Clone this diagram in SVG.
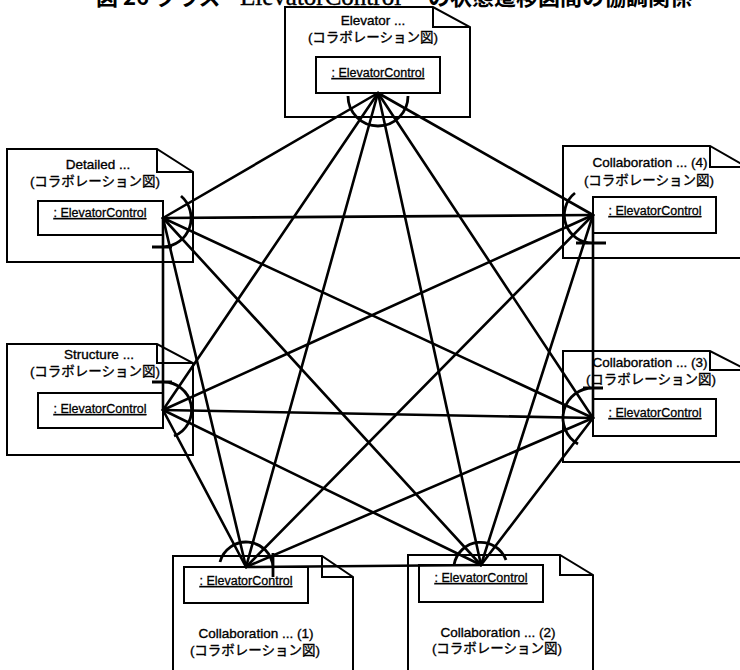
<svg xmlns="http://www.w3.org/2000/svg" width="740" height="670" viewBox="0 0 740 670">
  <style>
    .note { fill: #fff; stroke: #000; stroke-width: 2; stroke-linejoin: miter; }
    .fold { fill: none; stroke: #000; stroke-width: 2; }
    .obj { fill: #fff; stroke: #000; stroke-width: 2; }
    .lbl { font-family: "Liberation Sans", "Noto Sans CJK JP", sans-serif; font-size: 13.5px; fill: #000; stroke: #000; stroke-width: 0.35; text-anchor: middle; }
    .name { font-family: "Liberation Sans", "Noto Sans CJK JP", sans-serif; font-size: 12.5px; fill: #000; stroke: #000; stroke-width: 0.3; text-anchor: middle; text-decoration: underline; }
    .title { font-family: "Noto Sans CJK JP", sans-serif; font-weight: bold; font-size: 22px; fill: #000; }
    .titleLatin { font-family: "Liberation Serif", serif; font-size: 25px; fill: #000; stroke: #000; stroke-width: 0.4; }
    .link { stroke: #000; stroke-width: 2.6; fill: none; stroke-linecap: round; }
    .hub { stroke: #000; stroke-width: 2.8; fill: none; }
  </style>

  <!-- caption, partly clipped by the page top -->
  <g id="caption">
    <text class="title" x="96" y="5">図 26</text>
    <text class="title" x="155" y="5">クラス</text>
    <text class="titleLatin" x="240" y="5">ElevatorControl</text>
    <text class="title" x="428" y="5">の状態遷移図間の協調関係</text>
  </g>

  <!-- Elevator ... -->
  <g id="n-elevator">
    <path class="note" d="M285,7 H433 L470,27 V117 H285 Z"/>
    <path class="fold" d="M433,7 V27 H470"/>
    <text class="lbl" x="373" y="25">Elevator ...</text>
    <text class="lbl" x="373" y="42">(コラボレーション図)</text>
    <rect class="obj" x="316" y="57" width="124" height="36"/>
    <text class="name" x="378" y="77">: ElevatorControl</text>
  </g>

  <!-- Detailed ... -->
  <g id="n-detailed">
    <path class="note" d="M7,149 H157 L193,172 V262 H7 Z"/>
    <path class="fold" d="M157,149 V172 H193"/>
    <text class="lbl" x="98" y="169">Detailed ...</text>
    <text class="lbl" x="95" y="186">(コラボレーション図)</text>
    <rect class="obj" x="38" y="201" width="125" height="34"/>
    <text class="name" x="100" y="217">: ElevatorControl</text>
  </g>

  <!-- Collaboration ... (4) -->
  <g id="n-collab4">
    <path class="note" d="M563,146 H710 L747,167 V258 H563 Z"/>
    <path class="fold" d="M710,146 V167 H747"/>
    <text class="lbl" x="650" y="167">Collaboration ... (4)</text>
    <text class="lbl" x="649" y="185">(コラボレーション図)</text>
    <rect class="obj" x="593" y="197" width="123" height="36"/>
    <text class="name" x="655" y="215">: ElevatorControl</text>
  </g>

  <!-- Structure ... -->
  <g id="n-structure">
    <path class="note" d="M7,344 H157 L193,363 V455 H7 Z"/>
    <path class="fold" d="M157,344 V363 H193"/>
    <text class="lbl" x="99" y="359">Structure ...</text>
    <text class="lbl" x="95" y="376">(コラボレーション図)</text>
    <rect class="obj" x="38" y="393" width="125" height="35"/>
    <text class="name" x="100" y="413">: ElevatorControl</text>
  </g>

  <!-- Collaboration ... (3) -->
  <g id="n-collab3">
    <path class="note" d="M563,351 H710 L747,370 V462 H563 Z"/>
    <path class="fold" d="M710,351 V370 H747"/>
    <text class="lbl" x="650" y="367">Collaboration ... (3)</text>
    <text class="lbl" x="651" y="384">(コラボレーション図)</text>
    <rect class="obj" x="593" y="399" width="123" height="37"/>
    <text class="name" x="655" y="417">: ElevatorControl</text>
  </g>

  <!-- Collaboration ... (1) -->
  <g id="n-collab1">
    <path class="note" d="M173,556 H322 L353,577 V680 H173 Z"/>
    <path class="fold" d="M322,556 V577 H353"/>
    <rect class="obj" x="184" y="567" width="124" height="36"/>
    <text class="name" x="246" y="585">: ElevatorControl</text>
    <text class="lbl" x="256" y="638">Collaboration ... (1)</text>
    <text class="lbl" x="255" y="655">(コラボレーション図)</text>
  </g>

  <!-- Collaboration ... (2) -->
  <g id="n-collab2">
    <path class="note" d="M408,555 H560 L593,575 V680 H408 Z"/>
    <path class="fold" d="M560,555 V575 H593"/>
    <rect class="obj" x="419" y="565" width="124" height="37"/>
    <text class="name" x="481" y="582">: ElevatorControl</text>
    <text class="lbl" x="498" y="637">Collaboration ... (2)</text>
    <text class="lbl" x="497" y="653">(コラボレーション図)</text>
  </g>

  <!-- every pair of ElevatorControl objects is linked -->
  <g id="links">
    <!-- from Elevator (378,93) -->
    <line class="link" x1="378" y1="93" x2="163" y2="218"/>
    <line class="link" x1="378" y1="93" x2="593" y2="215"/>
    <line class="link" x1="378" y1="93" x2="163" y2="410"/>
    <line class="link" x1="378" y1="93" x2="593" y2="418"/>
    <line class="link" x1="378" y1="93" x2="246" y2="567"/>
    <line class="link" x1="378" y1="93" x2="481" y2="565"/>
    <!-- from Detailed (163,218) -->
    <line class="link" x1="163" y1="218" x2="593" y2="215"/>
    <line class="link" x1="163" y1="218" x2="163" y2="410"/>
    <line class="link" x1="163" y1="218" x2="593" y2="418"/>
    <line class="link" x1="163" y1="218" x2="246" y2="567"/>
    <line class="link" x1="163" y1="218" x2="481" y2="565"/>
    <!-- from Collaboration (4) (593,215) -->
    <line class="link" x1="593" y1="215" x2="163" y2="410"/>
    <line class="link" x1="593" y1="215" x2="593" y2="418"/>
    <line class="link" x1="593" y1="215" x2="246" y2="567"/>
    <line class="link" x1="593" y1="215" x2="481" y2="565"/>
    <!-- from Structure (163,410) -->
    <line class="link" x1="163" y1="410" x2="593" y2="418"/>
    <line class="link" x1="163" y1="410" x2="246" y2="567"/>
    <line class="link" x1="163" y1="410" x2="481" y2="565"/>
    <!-- from Collaboration (3) (593,418) -->
    <line class="link" x1="593" y1="418" x2="246" y2="567"/>
    <line class="link" x1="593" y1="418" x2="481" y2="565"/>
    <!-- Collaboration (1) to Collaboration (2) -->
    <line class="link" x1="246" y1="567" x2="481" y2="565"/>
  </g>

  <!-- arcs marking where the links meet each object -->
  <g id="hubs">
    <path class="hub" d="M348,96 A30,30 0 0 0 408,96"/>
    <path class="hub" d="M181,196 A29,29 0 0 1 163,247 M152,247 H172"/>
    <path class="hub" d="M575,193 A28,28 0 0 0 593,243 M576,243 H606"/>
    <path class="hub" d="M163,382 A28,28 0 0 1 174,436 M152,382 H172"/>
    <path class="hub" d="M593,388 A30,30 0 0 0 578,444 M583,388 H603"/>
    <path class="hub" d="M220,562 A27,27 0 0 1 273,567 M273,553 V577"/>
    <path class="hub" d="M454,565 A27,27 0 0 1 506,560"/>
  </g>
</svg>
